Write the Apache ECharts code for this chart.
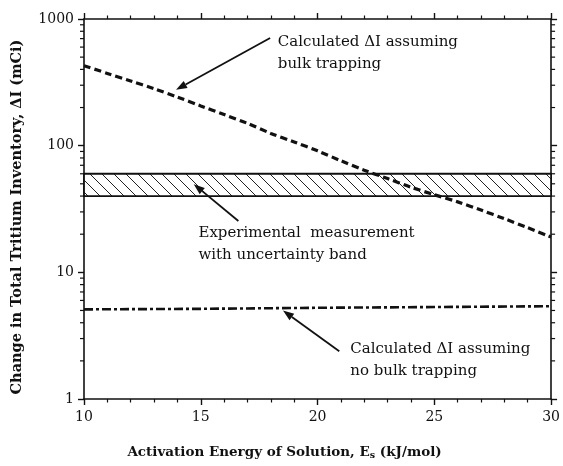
<!DOCTYPE html>
<html>
<head>
<meta charset="utf-8">
<script src="https://cdn.jsdelivr.net/npm/echarts/dist/echarts.min.js"></script>
<style>
  html, body { margin: 0; padding: 0; background: #fff; }
  #chart { width: 563px; height: 466px; }
</style>
</head>
<body>
<div id="chart"></div>
<script>
// Activation energy of solution (kJ/mol)
const energy = [10, 11, 12, 13, 14, 15, 16, 17, 18, 19, 20, 21, 22, 23, 24, 25, 26, 27, 28, 29, 30];
// Calculated change in inventory assuming bulk trapping (mCi)
const bulkTrapping = [428, 372, 324, 282, 242, 206, 176, 150, 125, 107, 91, 76, 64, 55, 47, 41, 36, 31, 26.5, 22.5, 19];
// Calculated change assuming no bulk trapping (mCi)
const noTrapEnergy = [10, 15, 20, 25, 30];
const noTrapping = [5.1, 5.15, 5.25, 5.32, 5.4];
// Experimental measurement with uncertainty band (mCi)
const bandRange = [40, 60];
// Log-axis minor tick values
const minorLogTicks = [2, 3, 4, 5, 6, 7, 8, 9, 20, 30, 40, 50, 60, 70, 80, 90, 200, 300, 400, 500, 600, 700, 800, 900];

const FONT = '"DejaVu Serif", serif';
const INK = '#111';

// diagonal hatch tile for the uncertainty band
const hatch = document.createElement('canvas');
hatch.width = 12; hatch.height = 12;
(function () {
  const g = hatch.getContext('2d');
  g.fillStyle = '#fff';
  g.fillRect(0, 0, 12, 12);
  g.strokeStyle = '#222';
  g.lineWidth = 1;
  for (const k of [-12, 0, 12]) {
    g.beginPath();
    g.moveTo(k, 0);
    g.lineTo(k + 12, 12);
    g.stroke();
  }
})();

const chart = echarts.init(document.getElementById('chart'), null, { renderer: 'canvas' });

const axisLine = { show: true, lineStyle: { color: INK, width: 1.6 } };
const xBase = {
  type: 'value', min: 10, max: 30, interval: 5,
  axisLine: axisLine,
  axisTick: { show: true, length: 6, inside: false, lineStyle: { color: INK, width: 1.4 } },
  minorTick: { show: true, splitNumber: 5, length: 3.5, lineStyle: { color: INK, width: 1.2 } },
  splitLine: { show: false },
  minorSplitLine: { show: false }
};
const yBase = {
  type: 'log', logBase: 10, min: 1, max: 1000,
  axisLine: axisLine,
  axisTick: { show: true, length: 6, lineStyle: { color: INK, width: 1.4 } },
  splitLine: { show: false }
};

chart.setOption({
  animation: false,
  backgroundColor: '#fff',
  grid: { left: 84, right: 7, top: 19, bottom: 65, containLabel: false },
  xAxis: [
    Object.assign({}, xBase, {
      position: 'bottom',
      axisLabel: { color: INK, fontFamily: FONT, fontSize: 14, margin: 11 },
      name: 'Activation Energy of Solution, E{sub|s} (kJ/mol)',
      nameLocation: 'middle',
      nameGap: 44,
      nameTextStyle: {
        color: INK, fontFamily: FONT, fontSize: 13.5, fontWeight: 'bold',
        padding: [0, 66, 0, 0],
        rich: { sub: { fontFamily: FONT, fontSize: 9.5, fontWeight: 'bold', color: INK, padding: [8, 0, 0, 0] } }
      }
    }),
    Object.assign({}, xBase, { position: 'top', axisLabel: { show: false } })
  ],
  yAxis: [
    Object.assign({}, yBase, {
      position: 'left',
      axisLabel: { color: INK, fontFamily: FONT, fontSize: 14, margin: 10, formatter: v => String(v) },
      name: 'Change in Total Tritium Inventory, \u0394I (mCi)',
      nameLocation: 'middle',
      nameGap: 59,
      nameTextStyle: { color: INK, fontFamily: FONT, fontSize: 14.5, fontWeight: 'bold', padding: [0, 16, 0, 0] }
    }),
    Object.assign({}, yBase, { position: 'right', axisLabel: { show: false } })
  ],
  series: [
    {
      name: 'band', type: 'line', data: [], silent: true,
      markArea: {
        silent: true,
        itemStyle: { color: { image: hatch, repeat: 'repeat' }, borderColor: INK, borderWidth: 1.8 },
        data: [[{ yAxis: bandRange[0] }, { yAxis: bandRange[1] }]]
      }
    },
    {
      name: 'bulk', type: 'line', showSymbol: false, smooth: 0.3,
      data: energy.map((e, i) => [e, bulkTrapping[i]]),
      lineStyle: { color: INK, width: 3.2, type: [7, 4] },
      z: 5
    },
    {
      name: 'noTrap', type: 'line', showSymbol: false,
      data: noTrapEnergy.map((e, i) => [e, noTrapping[i]]),
      lineStyle: { color: INK, width: 2.6, type: [9, 3, 3, 3] },
      z: 5
    },
    {
      // log minor ticks on the left and right axes
      name: 'minorTicks', type: 'custom', silent: true, clip: false,
      data: minorLogTicks.map(v => [v]),
      renderItem: function (params, api) {
        const v = api.value(0);
        const l = api.coord([10, v]);
        const r = api.coord([30, v]);
        const st = { stroke: INK, lineWidth: 1.2 };
        return {
          type: 'group',
          children: [
            { type: 'line', shape: { x1: l[0] - 4, y1: l[1], x2: l[0], y2: l[1] }, style: st },
            { type: 'line', shape: { x1: r[0], y1: r[1], x2: r[0] + 4, y2: r[1] }, style: st }
          ]
        };
      }
    }
  ]
});

// Annotations: arrow tips/tails in data units, text block anchored at its top-left
const annotations = [
  { tail: [17.97, 708], tip: [13.94, 276], text: 'Calculated \u0394I assuming\nbulk trapping', at: [18.3, 805] },
  { tail: [16.61, 25.4], tip: [14.70, 49.7], text: 'Experimental  measurement\nwith uncertainty band', at: [14.9, 25] },
  { tail: [20.93, 2.38], tip: [18.52, 4.99], text: 'Calculated \u0394I assuming\nno bulk trapping', at: [21.4, 3.05] }
];

function drawAnnotations() {
  const els = [];
  annotations.forEach(a => {
    const t = chart.convertToPixel({ gridIndex: 0 }, a.tail);
    const h = chart.convertToPixel({ gridIndex: 0 }, a.tip);
    const ang = Math.atan2(h[1] - t[1], h[0] - t[0]);
    const L = 11, W = 4;
    const bx = h[0] - L * Math.cos(ang), by = h[1] - L * Math.sin(ang);
    const px = -Math.sin(ang) * W, py = Math.cos(ang) * W;
    els.push({ type: 'line', shape: { x1: t[0], y1: t[1], x2: bx, y2: by }, style: { stroke: INK, lineWidth: 1.8 }, z: 10 });
    els.push({ type: 'polygon', shape: { points: [[h[0], h[1]], [bx + px, by + py], [bx - px, by - py]] }, style: { fill: INK }, z: 10 });
    const p = chart.convertToPixel({ gridIndex: 0 }, a.at);
    els.push({
      type: 'text', x: p[0], y: p[1], z: 10,
      style: { text: a.text, fill: INK, font: '15px ' + FONT, lineHeight: 22, align: 'left', verticalAlign: 'top' }
    });
  });
  chart.setOption({ graphic: els });
}
drawAnnotations();
</script>
</body>
</html>
